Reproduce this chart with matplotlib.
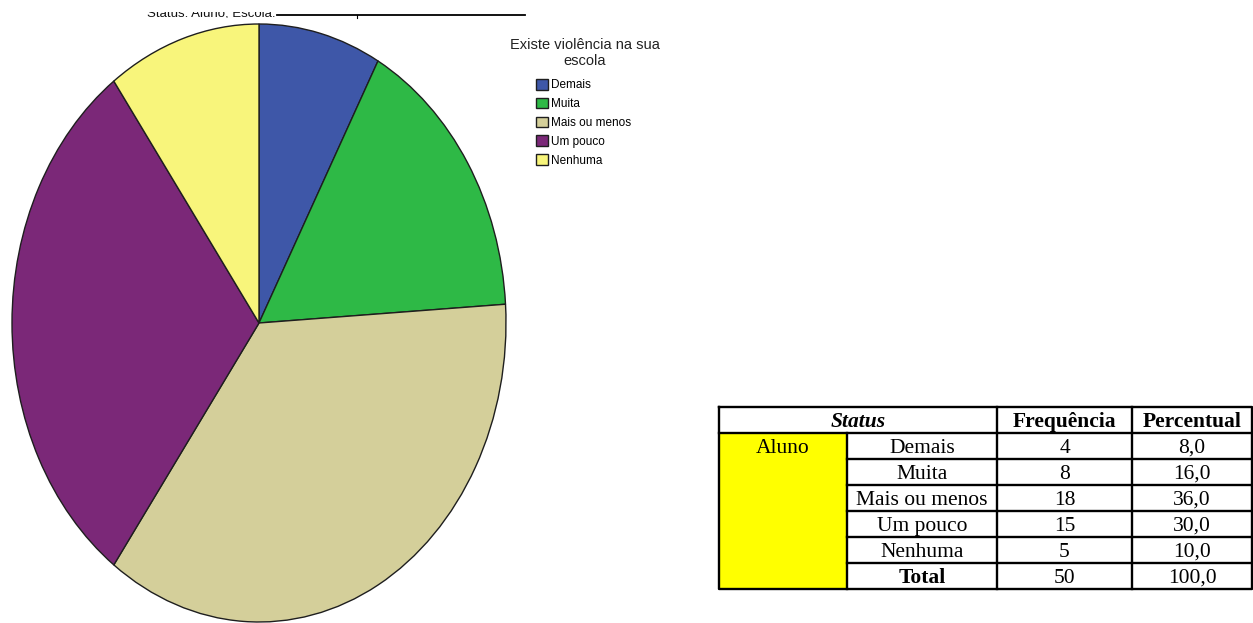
import matplotlib
matplotlib.use("Agg")
import matplotlib.pyplot as plt
from matplotlib import font_manager
from matplotlib.lines import Line2D
from matplotlib.transforms import Bbox

# ---- data -------------------------------------------------------------
categories = ["Demais", "Muita", "Mais ou menos", "Um pouco", "Nenhuma"]
frequencies = [4, 8, 18, 15, 5]
percentages = ["8,0", "16,0", "36,0", "30,0", "10,0"]
total_freq = 50
total_pct = "100,0"
status_label = "Aluno"
slice_colors = ["#3e57a8", "#2eb946", "#d4cf9a", "#7b2878", "#f8f57b"]
legend_title = "Existe violência na sua\nescola"
header_cells = ["Status", "Frequência", "Percentual"]
chart_heading = "Status: Aluno, Escola:"

W, H = 1253, 623
fig = plt.figure(figsize=(W / 100, H / 100), dpi=100)
fig.patch.set_facecolor("white")


def box(left, top, right, bottom):
    """Pixel box (from top-left) -> figure fraction rect."""
    return [left / W, 1 - bottom / H, (right - left) / W, (bottom - top) / H]


def fx(x):
    return x / W


def fy(y):
    return 1 - y / H


available = {f.name for f in font_manager.fontManager.ttflist}
narrow = "Liberation Sans Narrow" if "Liberation Sans Narrow" in available else "Liberation Sans"
narrow_scale = 1.0 if narrow == "Liberation Sans Narrow" else 0.85
serif = "Liberation Serif"

# ---- pie (stretched vertically, as exported) -------------------------
ax = fig.add_axes(box(12, 24, 506, 622))
wedges, _ = ax.pie(
    frequencies,
    colors=slice_colors,
    startangle=90,
    counterclock=False,
    radius=1.0,
    wedgeprops={"edgecolor": "#1e1e1e", "linewidth": 1.0, "clip_on": False},
)
ax.set_aspect("auto")
ax.set_xlim(-1, 1)
ax.set_ylim(-1, 1)
ax.axis("off")

# ---- heading, cut off at the top edge --------------------------------
head = fig.text(fx(147), fy(17), chart_heading, fontsize=9.5, family="Liberation Sans",
                ha="left", va="baseline", color="#111111")
head.set_clip_on(True)
head.set_clip_box(Bbox.from_extents(0, H - 18, W, H - 12))
fig.add_artist(Line2D([fx(277), fx(525)], [fy(15), fy(15)], color="black", lw=1.3))
fig.add_artist(Line2D([fx(357), fx(357)], [fy(15), fy(18)], color="black", lw=0.8))

# ---- legend -----------------------------------------------------------
fig.text(fx(585), fy(53), legend_title, ha="center", va="center",
         fontsize=12.4 * narrow_scale, family=narrow, color="#222222", linespacing=1.2)
fig.legend(
    wedges, categories,
    loc="upper left", bbox_to_anchor=(fx(536), fy(79)),
    frameon=False, borderpad=0, borderaxespad=0,
    handlelength=1.0, handleheight=1.0, handletextpad=0.3, labelspacing=0.55,
    prop={"family": narrow, "size": 10 * narrow_scale},
)

# ---- frequency table --------------------------------------------------
col_edges = [0, 128, 278, 413, 533]
n_rows = 7
tab = fig.add_axes(box(719, 407, 1252, 589))
tab.set_xlim(0, col_edges[-1])
tab.set_ylim(n_rows, 0)
tab.axis("off")

# yellow status cell spanning all data rows
tab.fill_between([col_edges[0], col_edges[1]], 1, n_rows, color="#ffff00", lw=0, zorder=0)

lw = 1.7
kw = dict(color="black", lw=lw, clip_on=False, solid_capstyle="projecting")
# outer frame
tab.plot([0, col_edges[-1], col_edges[-1], 0, 0], [0, 0, n_rows, n_rows, 0], **kw)
# header separator
tab.plot([0, col_edges[-1]], [1, 1], **kw)
# row separators (not across the status cell)
for r in range(2, n_rows):
    tab.plot([col_edges[1], col_edges[-1]], [r, r], **kw)
# column separators
tab.plot([col_edges[1], col_edges[1]], [1, n_rows], **kw)
for c in (2, 3):
    tab.plot([col_edges[c], col_edges[c]], [0, n_rows], **kw)


def mid(c0, c1):
    return (col_edges[c0] + col_edges[c1]) / 2


base = 0.76  # baseline position inside each row
fs = 15.5
tkw = dict(ha="center", va="baseline", family=serif, fontsize=fs, color="black")
tab.text(mid(0, 2), base, header_cells[0], weight="bold", style="italic", **tkw)
tab.text(mid(2, 3), base, header_cells[1], weight="bold", **tkw)
tab.text(mid(3, 4), base, header_cells[2], weight="bold", **tkw)
tab.text(mid(0, 1), 1 + base, status_label, **tkw)
for i, (cat, f, p) in enumerate(zip(categories, frequencies, percentages)):
    y = 1 + i + base
    tab.text(mid(1, 2), y, cat, **tkw)
    tab.text(mid(2, 3), y, str(f), **tkw)
    tab.text(mid(3, 4), y, p, **tkw)
tab.text(mid(1, 2), 6 + base, "Total", weight="bold", **tkw)
tab.text(mid(2, 3), 6 + base, str(total_freq), **tkw)
tab.text(mid(3, 4), 6 + base, total_pct, **tkw)

fig.savefig("out.png", dpi=100, facecolor="white")
